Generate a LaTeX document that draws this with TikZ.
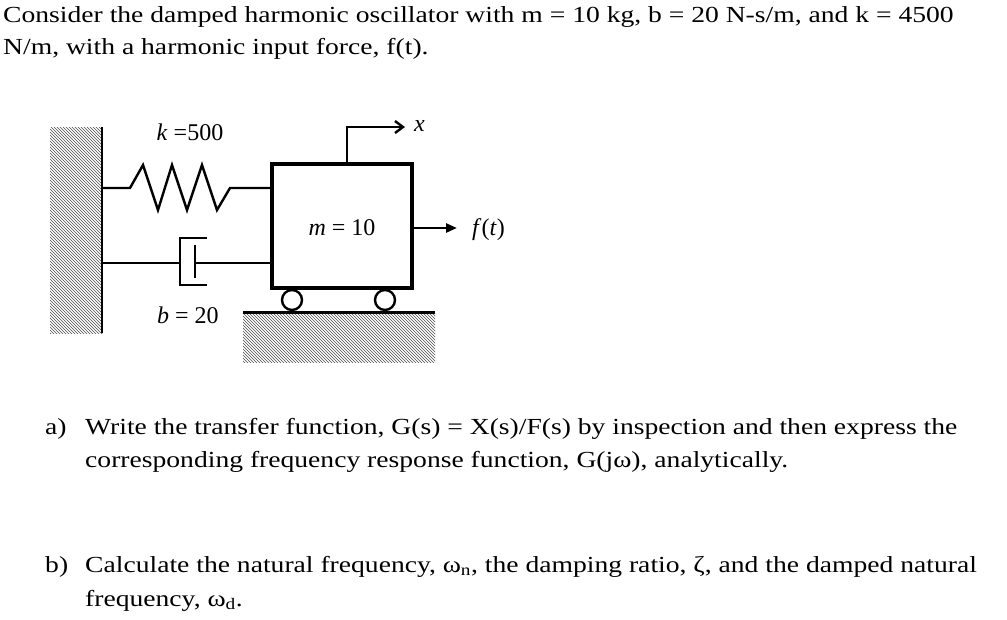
\documentclass[tikz,border=0pt]{standalone}
\usepackage{fontspec}
\setmainfont{Liberation Serif}
\newfontfamily\wide[FakeStretch=1.2]{Liberation Serif}
\usetikzlibrary{patterns,arrows.meta}
\begin{document}
\begin{tikzpicture}[x=1pt,y=-1pt,
  txt/.style={anchor=base west,inner sep=0pt,font=\wide\fontsize{23}{27}\selectfont},
  lab/.style={inner sep=0pt,font=\fontsize{24}{28}\selectfont},
  hatch/.style={pattern=north west lines,pattern color=black!70},
  thick2/.style={line width=3.6pt},
  ln/.style={line width=2.4pt}]
\useasboundingbox (0,0) rectangle (1007,619);
\node[txt] (t1) at (3,22) {Consider the damped harmonic oscillator with m = 10 kg, b = 20 N-s/m, and k = 4500};
\node[txt] (t2) at (3,54) {N/m, with a harmonic input force, f(t).};
\node[txt] (a) at (45,434) {a)};
\node[txt] (a1) at (85,434) {Write the transfer function, G(s) = X(s)/F(s) by inspection and then express the};
\node[txt] (a2) at (85,467) {corresponding frequency response function, G(jω), analytically.};
\node[txt] (b) at (45,572) {b)};
\node[txt] (b1) at (85,572) {Calculate the natural frequency, ω\textsubscript{n}, the damping ratio, ζ, and the damped natural};
\node[txt] (b2) at (85,606) {frequency, ω\textsubscript{d}.};
% wall
\fill[hatch] (50,127) rectangle (102,333);
\draw[line width=2.8pt] (102,127) -- (102,333);
% ground
\fill[hatch] (243,313) rectangle (435,362);
\draw[line width=3pt] (243,312) -- (435,312);
% mass
\node[draw,thick2,minimum width=140pt,minimum height=124pt,inner sep=0pt] (m) at (342,226) {};
\node[lab] (ml) at (342,228) {\textit{m} = 10};
% spring
\coordinate (s0) at (102,188);
\draw[ln] (s0) -- (130,188) -- (143,165) -- (158,210) -- (172,165) -- (187,210) -- (202,165) -- (217,210) -- (230,188) -- (m.west |- 0,188);
\node[lab] (kl) at (190,132) {\textit{k} =500};
% damper
\draw[ln] (102,263) -- (180,263);
\draw[ln] (207,238) -- (180,238) -- (180,285) -- (207,285);
\draw[ln] (195,245) -- (195,278);
\draw[ln] (195,263) -- (m.west |- 0,263);
\node[lab] (bl) at (188,315) {\textit{b} = 20};
% wheels
\draw[ln,fill=white] (292,300) circle (10);
\draw[ln,fill=white] (385,300) circle (10);
% x arrow
\coordinate (xe) at (405,127);
\draw[ln,-{Straight Barb[length=8pt,width=12pt]}] (347,164) -- (347,127) -- (xe);
\node[lab,anchor=west] (xl) at (414,126) {\textit{x}};
% f(t)
\coordinate (fe) at (457,228);
\draw[ln,-{Triangle[length=11pt,width=9pt]}] (m.east |- 0,228) -- (fe);
\node[lab,anchor=west] (fl) at (472,230) {\textit{f}(\textit{t})};
\end{tikzpicture}
\end{document}
